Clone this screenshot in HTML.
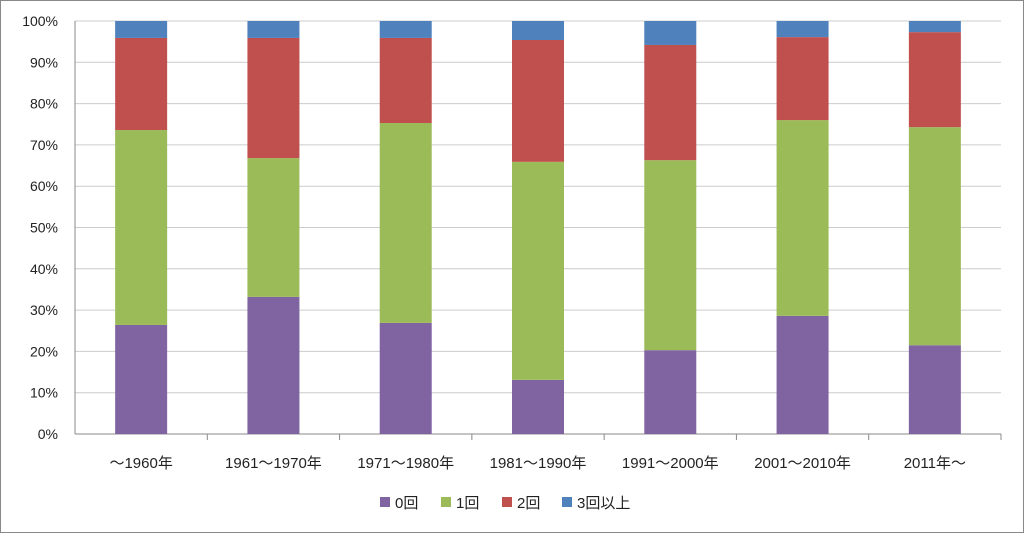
<!DOCTYPE html>
<html><head><meta charset="utf-8"><style>
body{margin:0;background:#fff}
svg text{font-family:"Liberation Sans","Noto Sans CJK JP",sans-serif;fill:#222}
</style></head><body>
<svg width="1024" height="533" xmlns="http://www.w3.org/2000/svg">
<rect x="0.5" y="0.5" width="1023" height="532" fill="#fff" stroke="#888"/>
<g id="grid"></g><g id="bars"></g><g id="axes"></g><g id="legend"></g>
</svg>
<script>
const categories=["～1960年","1961～1970年","1971～1980年","1981～1990年","1991～2000年","2001～2010年","2011年～"];
const seriesNames=["0回","1回","2回","3回以上"];
const s0=[26.4,33.2,26.9,13.1,20.3,28.6,21.5];
const s1=[47.2,33.6,48.4,52.8,46.0,47.4,52.8];
const s2=[22.3,29.1,20.6,29.5,27.9,20.1,23.0];
const s3=[4.1,4.1,4.1,4.6,5.8,3.9,2.7];
const colors=["#8064A2","#9BBB59","#C0504D","#4F81BD"];
const yTicks=[0,10,20,30,40,50,60,70,80,90,100];
const ns="http://www.w3.org/2000/svg";
const X0=75,X1=1001,Y0=434,Y1=21;
const y=v=>Y0-(v/100)*(Y0-Y1);
const band=(X1-X0)/categories.length;
const xc=i=>X0+band*(i+0.5);
function mk(t,a,p){const e=document.createElementNS(ns,t);for(const k in a)e.setAttribute(k,a[k]);p.appendChild(e);return e;}
const G=document.getElementById('grid'),B=document.getElementById('bars'),A=document.getElementById('axes'),L=document.getElementById('legend');
yTicks.forEach(t=>{
 const l=mk('line',{x1:X0,x2:X1,y1:y(t),y2:y(t),stroke:t==0?'#888':'#ccc'},G);
 
 
 const tx=mk('text',{x:X0-17,y:y(t)+5,'text-anchor':'end','font-size':14},A);tx.textContent=t+'%';
 
 
});
const ax=mk('line',{x1:X0,x2:X0,y1:Y1,y2:Y0,stroke:'#888'},A);


const series=[s0,s1,s2,s3];
categories.forEach((c,i)=>{
 let base=0;
 series.forEach((s,k)=>{
  const r=mk('rect',{x:xc(i)-26,width:52,y:y(base+s[i]),height:y(base)-y(base+s[i]),fill:colors[k]},B);
  
  
  base+=s[i];
 });
 const tk=mk('line',{x1:X0+band*(i+1),x2:X0+band*(i+1),y1:Y0,y2:Y0+6,stroke:'#888'},A);
 
 
 const t=mk('text',{x:xc(i),y:468,'text-anchor':'middle','font-size':15},A);t.textContent=c;
 
 
});
const lx=[380,441,502,562];
seriesNames.forEach((n,k)=>{
 const r=mk('rect',{x:lx[k],y:497,width:10,height:10,fill:colors[k]},L);
 
 
 const t=mk('text',{x:lx[k]+15,y:508,'font-size':15},L);t.textContent=n;
 
 
});
</script>
</body></html>
